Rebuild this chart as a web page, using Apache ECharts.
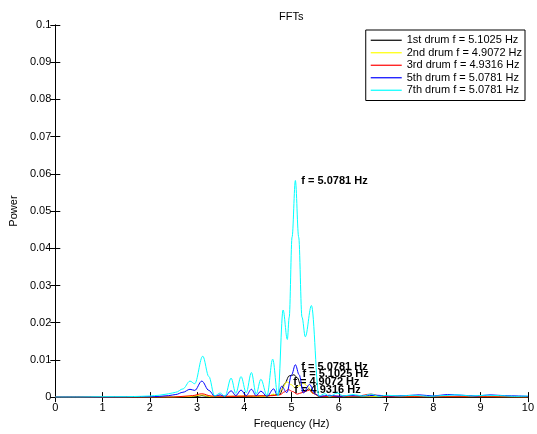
<!DOCTYPE html>
<html>
<head>
<meta charset="utf-8">
<script src="https://cdn.jsdelivr.net/npm/echarts@6/dist/echarts.min.js"></script>
<style>html,body{margin:0;padding:0;background:#fff;}#c{width:537px;height:434px;}</style>
</head>
<body>
<div id="c"></div>
<script>
// ---- data ----
var seriesNames = ['1st drum f = 5.1025 Hz', '2nd drum f = 4.9072 Hz', '3rd drum f = 4.9316 Hz', '5th drum f = 5.0781 Hz', '7th drum f = 5.0781 Hz'];
var seriesColors = ['#000000', '#ffff00', '#ff0000', '#0000ff', '#00ffff'];

var f1 = [0, 2.5, 3.0, 3.1, 3.3, 3.8, 4.2, 4.5, 4.62, 4.75, 4.85, 4.95, 5.05, 5.12, 5.2, 5.28, 5.36, 5.46, 5.6, 6.0, 6.5, 7, 8, 9, 10];
var p1 = [0, 0, 0.0002, 0.0004, 0.0001, 0.0002, 0.0002, 0.0003, 0.0006, 0.0008, 0.0035, 0.0057, 0.006, 0.0052, 0.003, 0.0015, 0.0022, 0.001, 0.0001, 0.0002, 0.0001, 0.0001, 0.0001, 0.0001, 0];

var f2 = [0, 2.5, 2.9, 3.1, 3.3, 3.7, 4.0, 4.3, 4.5, 4.62, 4.7, 4.8, 4.9, 5.0, 5.07, 5.15, 5.25, 5.35, 5.45, 5.6, 6, 7, 8, 9, 10];
var p2 = [0, 0, 0.0002, 0.0006, 0.0001, 0.0002, 0.0003, 0.0002, 0.0002, 0.0008, 0.0004, 0.0022, 0.0041, 0.0033, 0.0025, 0.003, 0.0037, 0.0028, 0.001, 0.0001, 0.0001, 0.0001, 0.0001, 0.0001, 0];

var f3 = [0, 2.5, 2.9, 3.1, 3.3, 3.7, 4.2, 4.6, 4.75, 4.85, 4.93, 5.02, 5.12, 5.22, 5.3, 5.38, 5.46, 5.6, 6.0, 6.4, 6.68, 6.9, 7.2, 8, 9, 10];
var p3 = [0, 0, 0.0004, 0.0009, 0.0003, 0.0002, 0.0003, 0.0004, 0.0006, 0.0014, 0.002, 0.0015, 0.0008, 0.0012, 0.0016, 0.0019, 0.001, 0.0002, 0.0002, 0.0003, 0.0008, 0.0002, 0.0001, 0.0001, 0.0001, 0];

var f5 = [0, 1, 2, 2.2, 2.4, 2.55, 2.7, 2.85, 2.95, 3.1, 3.25, 3.37, 3.49, 3.59, 3.72, 3.82, 3.93, 4.04, 4.15, 4.25, 4.35, 4.48, 4.62, 4.7, 4.79, 4.9, 5.0, 5.08, 5.16, 5.25, 5.38, 5.5, 5.6, 5.8, 6.0, 6.2, 6.5, 6.8, 7.1, 7.4, 7.7, 8.0, 8.3, 8.6, 8.9, 9.2, 9.5, 9.8, 10];
var p5 = [0, 0, 0.0001, 0.0002, 0.0004, 0.0007, 0.0013, 0.0021, 0.0018, 0.0043, 0.0018, 0.0003, 0.0006, 0.0002, 0.0017, 0.0004, 0.0019, 0.0004, 0.0021, 0.0004, 0.0016, 0.0002, 0.0022, 0.0005, 0.0029, 0.0012, 0.006, 0.0087, 0.006, 0.0011, 0.0034, 0.0008, 0.0002, 0.0005, 0.0002, 0.0004, 0.0003, 0.0005, 0.0003, 0.0004, 0.0006, 0.0003, 0.0007, 0.0005, 0.0003, 0.0006, 0.0004, 0.0003, 0.0002];

var f7 = [0, 0.5, 1.0, 1.5, 1.8, 2.0, 2.2, 2.4, 2.55, 2.7, 2.85, 2.95, 3.12, 3.25, 3.37, 3.49, 3.59, 3.72, 3.82, 3.93, 4.04, 4.15, 4.25, 4.35, 4.48, 4.6, 4.71, 4.82, 4.91, 4.95, 5.01, 5.08, 5.15, 5.22, 5.29, 5.42, 5.58, 5.7, 5.8, 5.97, 6.1, 6.3, 6.5, 6.68, 6.85, 7.0, 7.3, 7.6, 7.9, 8.2, 8.5, 8.8, 9.1, 9.4, 9.7, 10];
var p7 = [0, 0, 0.0001, 0.0001, 0.0002, 0.0003, 0.0005, 0.0009, 0.0013, 0.0022, 0.0043, 0.0036, 0.0110, 0.0055, 0.0003, 0.0011, 0.0002, 0.0051, 0.0010, 0.0055, 0.0012, 0.0066, 0.0008, 0.0048, 0.0004, 0.0102, 0.0003, 0.0234, 0.0155, 0.0215, 0.043, 0.0582, 0.043, 0.0215, 0.0162, 0.0246, 0.0003, 0.0009, 0.0002, 0.0011, 0.0003, 0.0007, 0.0003, 0.0008, 0.0002, 0.0005, 0.0003, 0.0005, 0.0002, 0.0004, 0.0006, 0.0003, 0.0005, 0.0004, 0.0002, 0.0003];

// peak annotation anchors (frequency, power) and texts
var peakFreqs = [5.1025, 4.9072, 4.9316, 5.0781, 5.0781];
var peakPowers = [0.0063, 0.0040, 0.0018, 0.0081, 0.0582];
var peakTexts = ['f = 5.1025 Hz', 'f = 4.9072 Hz', 'f = 4.9316 Hz', 'f = 5.0781 Hz', 'f = 5.0781 Hz'];

var xTicks = [0, 1, 2, 3, 4, 5, 6, 7, 8, 9, 10];

// ---- build ----
var FONT = "'Liberation Sans', Arial, Helvetica, sans-serif";
var freqs = [f1, f2, f3, f5, f7];
var powers = [p1, p2, p3, p5, p7];

function pairs(f, p) {
  var out = [];
  for (var i = 0; i < f.length; i++) out.push([f[i], p[i]]);
  return out;
}

var series = [];
for (var k = 0; k < seriesNames.length; k++) {
  series.push({
    name: seriesNames[k],
    type: 'line',
    xAxisIndex: 0,
    yAxisIndex: 0,
    data: pairs(freqs[k], powers[k]),
    smooth: 0.35,
    smoothMonotone: 'x',
    symbol: 'none',
    showSymbol: false,
    clip: true,
    lineStyle: { color: seriesColors[k], width: 1 },
    itemStyle: { color: seriesColors[k] },
    z: 2 + k,
    silent: true,
    animation: false,
    markPoint: {
      symbol: 'circle',
      symbolSize: 0,
      silent: true,
      animation: false,
      data: [{ coord: [peakFreqs[k], peakPowers[k]] }],
      label: {
        show: true,
        position: 'right',
        distance: 6,
        formatter: peakTexts[k],
        color: '#000',
        fontWeight: 'bold',
        fontSize: 11,
        fontFamily: FONT
      }
    }
  });
}

var axisCommonX = {
  type: 'value', min: 0, max: 10, interval: 1,
  axisLine: { show: true, lineStyle: { color: '#000', width: 1 } },
  axisTick: { show: true, inside: true, length: 5, lineStyle: { color: '#000' } },
  splitLine: { show: false }
};
var axisCommonY = {
  type: 'value', min: 0, max: 0.1, interval: 0.01,
  axisLine: { show: true, lineStyle: { color: '#000', width: 1 } },
  axisTick: { show: true, inside: true, length: 5, lineStyle: { color: '#000' } },
  splitLine: { show: false }
};

var chart = echarts.init(document.getElementById('c'), null, { renderer: 'canvas' });
chart.setOption({
  animation: false,
  backgroundColor: '#fff',
  title: {
    text: 'FFTs',
    left: 274,
    top: 6,
    textStyle: { fontSize: 11, fontWeight: 'normal', color: '#000', fontFamily: FONT }
  },
  legend: {
    data: seriesNames,
    orient: 'vertical',
    right: 12,
    top: 30,
    icon: 'rect',
    itemWidth: 31,
    itemHeight: 1.2,
    itemGap: 0,
    padding: [4, 3, 4, 5],
    borderColor: '#000',
    borderWidth: 1,
    backgroundColor: '#fff',
    selectedMode: false,
    textStyle: { fontSize: 11, color: '#000', fontFamily: FONT, lineHeight: 12.5 },
    z: 20
  },
  grid: { left: 53, right: 9, top: 25, bottom: 33, containLabel: false },
  xAxis: [
    Object.assign({}, axisCommonX, {
      position: 'bottom',
      name: 'Frequency (Hz)',
      nameLocation: 'middle',
      nameGap: 17,
      nameTextStyle: { fontSize: 11, color: '#000', fontFamily: FONT },
      axisLabel: {
        show: true, margin: 5, fontSize: 11, color: '#000', fontFamily: FONT,
        formatter: function (v) { return xTicks.indexOf(v) >= 0 ? String(v) : ''; }
      }
    }),
    Object.assign({}, axisCommonX, { position: 'top', axisLabel: { show: false } })
  ],
  yAxis: [
    Object.assign({}, axisCommonY, {
      position: 'left',
      name: 'Power',
      nameLocation: 'middle',
      nameGap: 27,
      nameTextStyle: { fontSize: 11, color: '#000', fontFamily: FONT },
      axisLabel: {
        show: true, margin: 4, fontSize: 11, color: '#000', fontFamily: FONT,
        formatter: function (v) { return String(parseFloat(v.toFixed(3))); }
      }
    }),
    Object.assign({}, axisCommonY, { position: 'right', axisLabel: { show: false } })
  ],
  series: series
});
</script>
</body>
</html>
